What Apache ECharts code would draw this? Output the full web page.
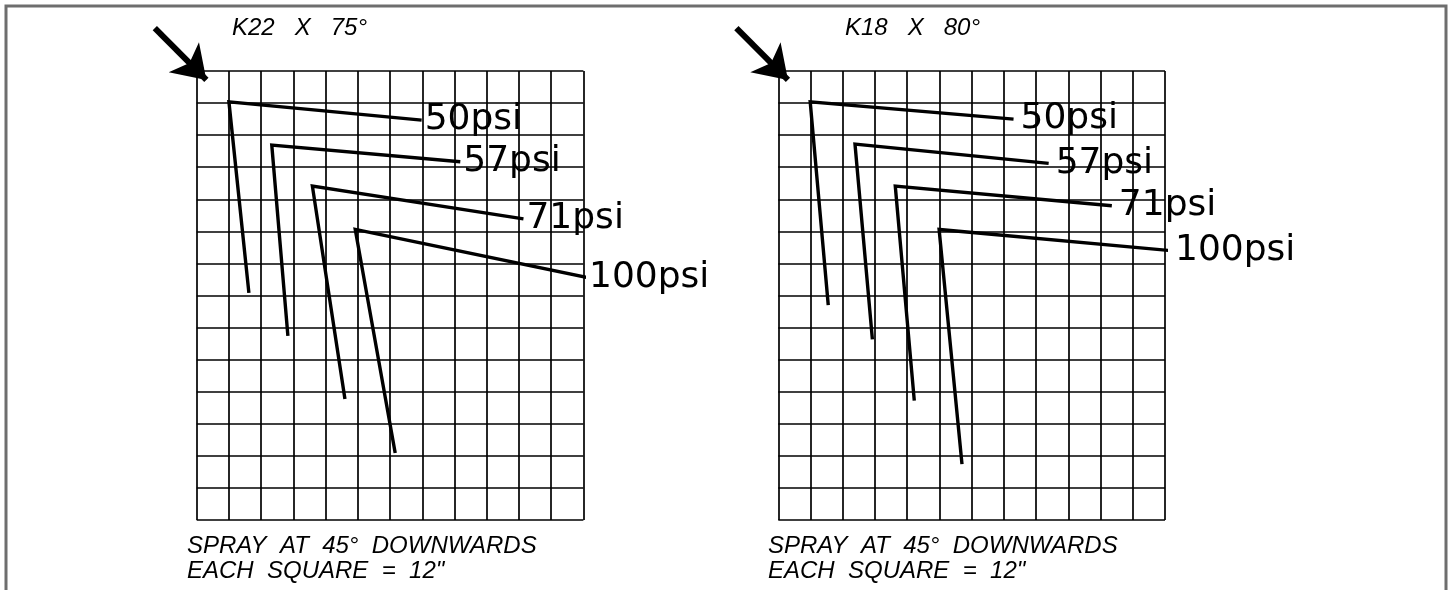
<!DOCTYPE html>
<html>
<head>
<meta charset="utf-8">
<script src="https://cdn.jsdelivr.net/npm/echarts@6/dist/echarts.min.js"></script>
<style>
html,body{margin:0;padding:0;background:#fff;}
#chart{width:1452px;height:590px;}
</style>
</head>
<body>
<div id="chart"></div>
<script>
// Grid size (squares)
const gridCols = 12;
const gridRows = 14;

// Titles and notes
const chartTitles = ['K22   X   75°', 'K18   X   80°'];
const noteLine1 = 'SPRAY  AT  45°  DOWNWARDS';
const noteLine2 = 'EACH  SQUARE  =  12"';

// Pressure labels
const pressureLabels = ['50psi', '57psi', '71psi', '100psi'];

// K22 x 75° : spray paths in squares (x from left, y down from top)
const k22VerticalEnd   = [[1.62, 6.92], [2.83, 8.26], [4.60, 10.23], [6.16, 11.91]];
const k22Corner        = [[1.00, 0.96], [2.33, 2.31], [3.59, 3.59], [4.92, 4.94]];
const k22HorizontalEnd = [[6.98, 1.53], [8.18, 2.83], [10.14, 4.61], [12.11, 6.44]];

// K18 x 80°
const k18VerticalEnd   = [[1.55, 7.30], [2.92, 8.37], [4.22, 10.28], [5.70, 12.26]];
const k18Corner        = [[0.99, 0.96], [2.38, 2.28], [3.63, 3.59], [4.99, 4.94]];
const k18HorizontalEnd = [[7.30, 1.50], [8.39, 2.88], [10.35, 4.20], [12.27, 5.61]];

// Direction arrow (squares)
const arrowFrom = [-1.30, -1.34];
const arrowTo = [0.30, 0.28];

const chart = echarts.init(document.getElementById('chart'), null, {renderer: 'canvas'});

const grids = [
  {left: 196.7, top: 71, width: 386.7, height: 449},
  {left: 778.3, top: 71, width: 386.7, height: 449}
];

function xAxisFor(i) {
  return {
    gridIndex: i, type: 'value', min: 0, max: gridCols, interval: 1,
    axisLine: {show: false}, axisTick: {show: false}, axisLabel: {show: false},
    splitLine: {show: true, lineStyle: {color: '#000', width: 1.7}}
  };
}
function yAxisFor(i) {
  return {
    gridIndex: i, type: 'value', min: 0, max: gridRows, interval: 1, inverse: true,
    axisLine: {show: false}, axisTick: {show: false}, axisLabel: {show: false},
    splitLine: {show: true, lineStyle: {color: '#000', width: 1.7}}
  };
}

const series = [];
const sets = [
  [k22VerticalEnd, k22Corner, k22HorizontalEnd],
  [k18VerticalEnd, k18Corner, k18HorizontalEnd]
];
const labelGap = [3, 7];
sets.forEach(function (set, gi) {
  pressureLabels.forEach(function (lab, k) {
    series.push({
      type: 'line', name: lab, xAxisIndex: gi, yAxisIndex: gi,
      data: [set[0][k], set[1][k], set[2][k]],
      symbol: 'none', clip: false, animation: false,
      lineStyle: {color: '#000', width: 3.4, cap: 'butt', join: 'miter'},
      endLabel: {
        show: true, formatter: lab, distance: labelGap[gi],
        color: '#000', fontSize: 36, fontFamily: 'DejaVu Sans'
      },
      z: 3
    });
  });
  series.push({
    type: 'lines', coordinateSystem: 'cartesian2d', xAxisIndex: gi, yAxisIndex: gi,
    clip: false, animation: false,
    symbol: ['none', 'arrow'], symbolSize: [28, 32],
    lineStyle: {color: '#000', width: 6, opacity: 1, curveness: 0},
    itemStyle: {color: '#000'},
    data: [{coords: [arrowFrom, arrowTo]}],
    z: 4
  });
});

const txtFont = 'italic 24px "Liberation Sans", Arial, sans-serif';
const graphics = [
  {type: 'rect', shape: {x: 6, y: 6, width: 1440, height: 700},
   style: {fill: 'none', stroke: '#6e6e6e', lineWidth: 3}, silent: true}
];
const titleX = [232, 845];
const noteX = [187, 768];
[0, 1].forEach(function (i) {
  graphics.push({type: 'text', x: titleX[i], y: 40,
    style: {text: chartTitles[i], font: txtFont, fill: '#000', verticalAlign: 'bottom'}});
  graphics.push({type: 'text', x: noteX[i], y: 558,
    style: {text: noteLine1, font: txtFont, fill: '#000', verticalAlign: 'bottom'}});
  graphics.push({type: 'text', x: noteX[i], y: 583,
    style: {text: noteLine2, font: txtFont, fill: '#000', verticalAlign: 'bottom'}});
});

chart.setOption({
  animation: false,
  backgroundColor: '#fff',
  grid: grids,
  xAxis: [xAxisFor(0), xAxisFor(1)],
  yAxis: [yAxisFor(0), yAxisFor(1)],
  series: series,
  graphic: graphics
});
</script>
</body>
</html>
